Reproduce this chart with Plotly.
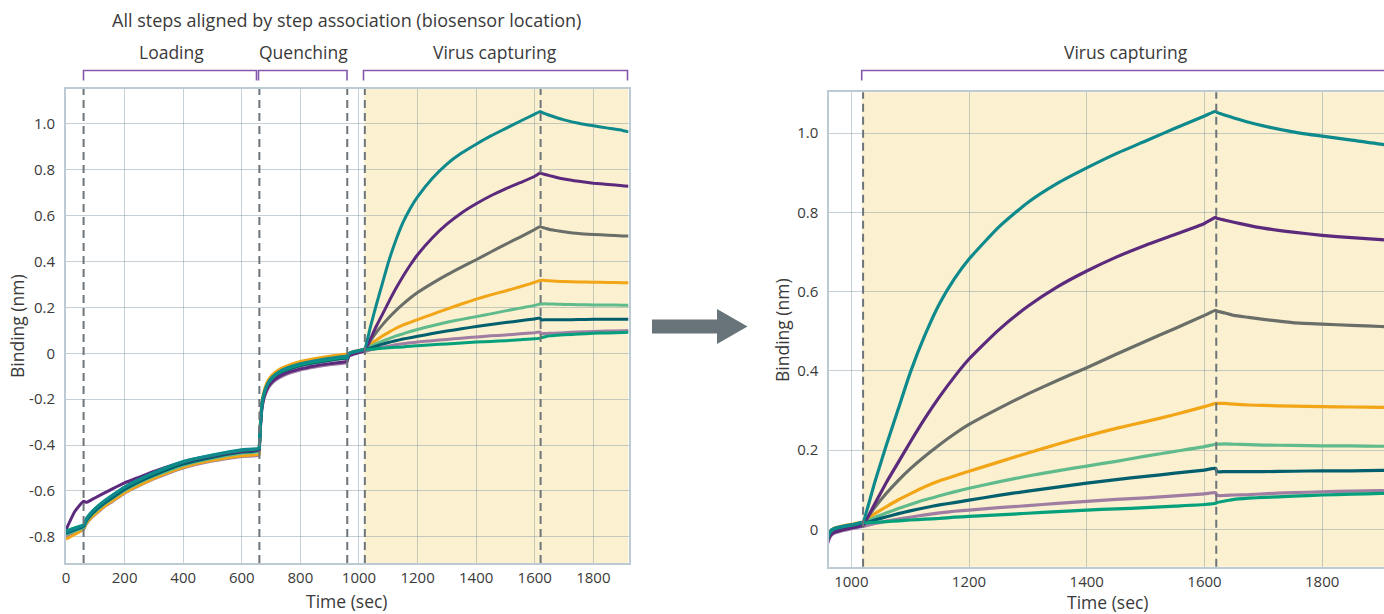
import plotly.graph_objects as go

W, H = 1384, 614

# ---------------- data ----------------
T_LOAD = [0, 30, 60, 70, 85, 100, 130, 160, 200, 250, 300, 400, 500, 600, 659]
T_QUENCH = [660, 662, 665, 670, 678, 690, 705, 725, 750, 800, 850, 900, 958]
T_BASE = [960, 963, 970, 985, 1000, 1019]
T_ASSOC = [1020, 1040, 1060, 1080, 1100, 1125, 1150, 1175, 1200, 1250, 1300, 1350,
           1400, 1450, 1500, 1550, 1600, 1619]
T_DISS = [1621, 1635, 1650, 1675, 1700, 1750, 1800, 1850, 1900, 1920]
TIME = T_LOAD + T_QUENCH + T_BASE + T_ASSOC + T_DISS

mauve = ([-0.80, -0.785, -0.768, -0.743, -0.72, -0.702, -0.67, -0.645, -0.61, -0.577, -0.548, -0.50, -0.47, -0.45, -0.445]
         + [-0.43, -0.37, -0.30, -0.232, -0.188, -0.152, -0.128, -0.109, -0.093, -0.073, -0.06, -0.05, -0.042]
         + [-0.035, -0.021, -0.01, -0.003, 0.002, 0.008]
         + [0.008, 0.015, 0.021, 0.026, 0.031, 0.037, 0.042, 0.046, 0.049, 0.055, 0.06, 0.066, 0.071, 0.076, 0.08, 0.085, 0.09, 0.093]
         + [0.086, 0.086, 0.087, 0.088, 0.09, 0.093, 0.095, 0.097, 0.098, 0.099])
orange = ([-0.81, -0.79, -0.765, -0.74, -0.718, -0.70, -0.668, -0.642, -0.608, -0.575, -0.545, -0.497, -0.467, -0.447, -0.44]
          + [-0.42, -0.345, -0.27, -0.20, -0.155, -0.118, -0.093, -0.073, -0.057, -0.036, -0.023, -0.013, -0.004]
          + [-0.02, -0.006, 0.003, 0.009, 0.013, 0.019]
          + [0.019, 0.04, 0.058, 0.075, 0.09, 0.108, 0.123, 0.135, 0.147, 0.17, 0.193, 0.215, 0.236, 0.255, 0.272, 0.29, 0.31, 0.318]
          + [0.318, 0.318, 0.316, 0.314, 0.313, 0.311, 0.31, 0.309, 0.308, 0.308])
gray = ([-0.785, -0.77, -0.755, -0.728, -0.703, -0.684, -0.652, -0.625, -0.592, -0.558, -0.53, -0.482, -0.452, -0.43, -0.422]
        + [-0.405, -0.355, -0.285, -0.216, -0.171, -0.134, -0.11, -0.09, -0.074, -0.053, -0.04, -0.03, -0.021]
        + [-0.024, -0.01, -0.001, 0.006, 0.01, 0.016]
        + [0.016, 0.056, 0.092, 0.124, 0.153, 0.185, 0.214, 0.241, 0.265, 0.305, 0.342, 0.376, 0.408, 0.442, 0.475, 0.507, 0.54, 0.553]
        + [0.551, 0.546, 0.54, 0.535, 0.53, 0.522, 0.518, 0.515, 0.512, 0.511])
light_green = ([-0.79, -0.775, -0.76, -0.733, -0.708, -0.69, -0.658, -0.631, -0.598, -0.564, -0.536, -0.488, -0.458, -0.436, -0.428]
               + [-0.41, -0.357, -0.287, -0.218, -0.173, -0.136, -0.111, -0.091, -0.075, -0.054, -0.041, -0.031, -0.022]
               + [-0.024, -0.01, -0.001, 0.006, 0.01, 0.016]
               + [0.016, 0.03, 0.042, 0.053, 0.063, 0.075, 0.085, 0.095, 0.104, 0.12, 0.135, 0.148, 0.16, 0.172, 0.185, 0.197, 0.209, 0.215]
               + [0.215, 0.216, 0.215, 0.214, 0.213, 0.212, 0.211, 0.211, 0.21, 0.21])
dark_teal = ([-0.785, -0.77, -0.755, -0.73, -0.705, -0.686, -0.654, -0.628, -0.594, -0.56, -0.531, -0.483, -0.453, -0.431, -0.423]
             + [-0.41, -0.356, -0.286, -0.217, -0.172, -0.135, -0.11, -0.09, -0.074, -0.053, -0.04, -0.03, -0.021]
             + [-0.025, -0.011, -0.002, 0.005, 0.009, 0.015]
             + [0.015, 0.024, 0.032, 0.04, 0.047, 0.055, 0.062, 0.068, 0.074, 0.086, 0.097, 0.107, 0.117, 0.126, 0.134, 0.142, 0.15, 0.154]
             + [0.146, 0.146, 0.146, 0.146, 0.146, 0.147, 0.148, 0.148, 0.149, 0.149])
purple = ([-0.77, -0.69, -0.645, -0.65, -0.64, -0.63, -0.61, -0.59, -0.565, -0.54, -0.515, -0.475, -0.447, -0.427, -0.42]
          + [-0.41, -0.36, -0.295, -0.228, -0.183, -0.147, -0.123, -0.104, -0.088, -0.068, -0.055, -0.045, -0.035]
          + [-0.032, -0.018, -0.008, -0.001, 0.004, 0.01]
          + [0.01, 0.065, 0.12, 0.17, 0.22, 0.28, 0.335, 0.385, 0.43, 0.503, 0.563, 0.612, 0.652, 0.687, 0.717, 0.744, 0.772, 0.787]
          + [0.785, 0.78, 0.775, 0.767, 0.76, 0.75, 0.742, 0.736, 0.731, 0.728])
green = ([-0.775, -0.76, -0.748, -0.72, -0.695, -0.676, -0.645, -0.618, -0.584, -0.551, -0.522, -0.474, -0.445, -0.423, -0.415]
         + [-0.405, -0.352, -0.282, -0.213, -0.168, -0.131, -0.106, -0.086, -0.07, -0.049, -0.036, -0.026, -0.017]
         + [-0.022, -0.008, 0.001, 0.007, 0.011, 0.017]
         + [0.017, 0.018, 0.02, 0.022, 0.024, 0.026, 0.028, 0.031, 0.033, 0.037, 0.041, 0.045, 0.049, 0.052, 0.055, 0.059, 0.063, 0.066]
         + [0.068, 0.072, 0.076, 0.079, 0.081, 0.084, 0.087, 0.089, 0.091, 0.092])
teal = ([-0.78, -0.765, -0.75, -0.722, -0.697, -0.677, -0.645, -0.618, -0.583, -0.55, -0.52, -0.472, -0.443, -0.421, -0.413]
        + [-0.40, -0.35, -0.28, -0.21, -0.165, -0.128, -0.103, -0.083, -0.066, -0.045, -0.032, -0.022, -0.013]
        + [-0.02, -0.006, 0.002, 0.008, 0.012, 0.018]
        + [0.018, 0.12, 0.215, 0.305, 0.395, 0.49, 0.57, 0.632, 0.682, 0.762, 0.825, 0.873, 0.912, 0.948, 0.98, 1.012, 1.043, 1.055]
        + [1.052, 1.045, 1.038, 1.027, 1.018, 1.003, 0.992, 0.982, 0.972, 0.966])

SERIES = [mauve, orange, gray, light_green, dark_teal, purple, green, teal]
COLORS = ["#a07ea3", "#f2a516", "#6a6e68", "#5fbb8c", "#015f6e", "#5c2a7d", "#05a07c", "#0f8a8c"]

STEP_LINES = [60, 660, 960, 1020, 1620]
STEP_LINES_RIGHT = [1020, 1620]

X_TICKS_LEFT = [0, 200, 400, 600, 800, 1000, 1200, 1400, 1600, 1800]
X_TICKS_RIGHT = [1000, 1200, 1400, 1600, 1800]
Y_TICKS_LEFT = [-0.8, -0.6, -0.4, -0.2, 0, 0.2, 0.4, 0.6, 0.8, 1.0]
Y_TEXT_LEFT = ["-0.8", "-0.6", "-0.4", "-0.2", "0", "0.2", "0.4", "0.6", "0.8", "1.0"]
Y_TICKS_RIGHT = [0, 0.2, 0.4, 0.6, 0.8, 1.0]
Y_TEXT_RIGHT = ["0", "0.2", "0.4", "0.6", "0.8", "1.0"]

TITLE = "All steps aligned by step association (biosensor location)"
STEP_NAMES = ["Loading", "Quenching", "Virus capturing"]

# ---------------- figure ----------------
FONT = "Open Sans"
TXT = "#3a3a3a"
GRID = "rgba(120,145,160,0.42)"
AXLINE = "#bccad3"
DASH = "#6d757b"
BRACKET = "#8458ab"
SHADE = "#fbf0cf"


def px(x):
    return x / W


def py(y):
    return 1 - y / H


fig = go.Figure()
for s, c in zip(SERIES, COLORS):
    fig.add_trace(go.Scatter(x=TIME, y=s, mode="lines",
                             line=dict(color=c, width=3, shape="spline", smoothing=0.5),
                             xaxis="x", yaxis="y", showlegend=False, hoverinfo="skip"))
for s, c in zip(SERIES, COLORS):
    fig.add_trace(go.Scatter(x=TIME, y=s, mode="lines",
                             line=dict(color=c, width=3.2, shape="spline", smoothing=0.5),
                             xaxis="x2", yaxis="y2", showlegend=False, hoverinfo="skip"))

axis_common = dict(showgrid=True, gridcolor=GRID, gridwidth=1, zeroline=False,
                   showline=True, linecolor=AXLINE, linewidth=2, ticks="", automargin=False,
                   tickfont=dict(family=FONT, size=15, color=TXT), fixedrange=True)

fig.update_layout(
    width=W, height=H,
    margin=dict(l=0, r=0, t=0, b=0, autoexpand=False),
    paper_bgcolor="white", plot_bgcolor="white",
    font=dict(family=FONT, color=TXT),
    xaxis=dict(domain=[px(66), px(628.5)], range=[0, 1920], tickvals=X_TICKS_LEFT,
               mirror=True, anchor="y", **axis_common),
    yaxis=dict(domain=[py(563), py(89)], range=[-0.9145, 1.1526], tickvals=Y_TICKS_LEFT,
               ticktext=Y_TEXT_LEFT, mirror=True, anchor="x", ticklabelstandoff=6, **axis_common),
    xaxis2=dict(domain=[px(829.3), 1.0], range=[962.6, 1905], tickvals=X_TICKS_RIGHT,
                mirror=True, anchor="y2", **axis_common),
    yaxis2=dict(domain=[py(566.7), py(92.3)], range=[-0.0938, 1.1027], tickvals=Y_TICKS_RIGHT,
                ticktext=Y_TEXT_RIGHT, anchor="x2", ticklabelstandoff=6, **axis_common),
)

shapes = []
shapes.append(dict(type="rect", xref="x", yref="y domain", x0=1018, x1=1920, y0=0, y1=1,
                   fillcolor=SHADE, line=dict(width=0), layer="below"))
shapes.append(dict(type="rect", xref="x2", yref="y2 domain", x0=1018, x1=1905, y0=0, y1=1,
                   fillcolor=SHADE, line=dict(width=0), layer="below"))
for xv in STEP_LINES:
    shapes.append(dict(type="line", xref="x", yref="y domain", x0=xv, x1=xv, y0=0, y1=1,
                       line=dict(color=DASH, width=2, dash="8px,5px"), layer="above"))
for xv in STEP_LINES_RIGHT:
    shapes.append(dict(type="line", xref="x2", yref="y2 domain", x0=xv, x1=xv, y0=0, y1=1,
                       line=dict(color=DASH, width=2, dash="8px,5px"), layer="above"))


def bracket(x0, x1, ytop=70.5, ybot=80.5):
    return dict(type="path", xref="paper", yref="paper",
                path=f"M {px(x0)} {py(ybot)} L {px(x0)} {py(ytop)} L {px(x1)} {py(ytop)} L {px(x1)} {py(ybot)}",
                line=dict(color=BRACKET, width=1.6))


shapes.append(bracket(83.5, 256.5))
shapes.append(bracket(258.5, 347))
shapes.append(bracket(363.5, 627.5))
shapes.append(dict(type="path", xref="paper", yref="paper",
                   path=f"M {px(861.7)} {py(80.5)} L {px(861.7)} {py(70.5)} L {px(1384)} {py(70.5)}",
                   line=dict(color=BRACKET, width=1.6)))

arrow = (f"M {px(652)} {py(319.5)} L {px(717)} {py(319.5)} L {px(717)} {py(309)} "
         f"L {px(747.5)} {py(326.5)} L {px(717)} {py(344)} L {px(717)} {py(333.5)} "
         f"L {px(652)} {py(333.5)} Z")
shapes.append(dict(type="path", xref="paper", yref="paper", path=arrow,
                   fillcolor="#68737a", line=dict(width=0)))

fig.update_layout(shapes=shapes)

ann = []


def text(x, y, s, size=17.5, angle=0):
    ann.append(dict(x=px(x), y=py(y), xref="paper", yref="paper", text=s, showarrow=False,
                    xanchor="center", yanchor="middle", textangle=angle,
                    font=dict(family=FONT, size=size, color=TXT)))


text(347, 20, TITLE, 18)
text(171, 52, STEP_NAMES[0])
text(303, 52, STEP_NAMES[1])
text(495, 52, STEP_NAMES[2])
text(1126, 52, STEP_NAMES[2])
text(347, 601, "Time (sec)")
text(1108, 602, "Time (sec)")
text(17, 326, "Binding (nm)", angle=-90)
text(782, 330, "Binding (nm)", angle=-90)
fig.update_layout(annotations=ann)

fig.write_html("out.html")
